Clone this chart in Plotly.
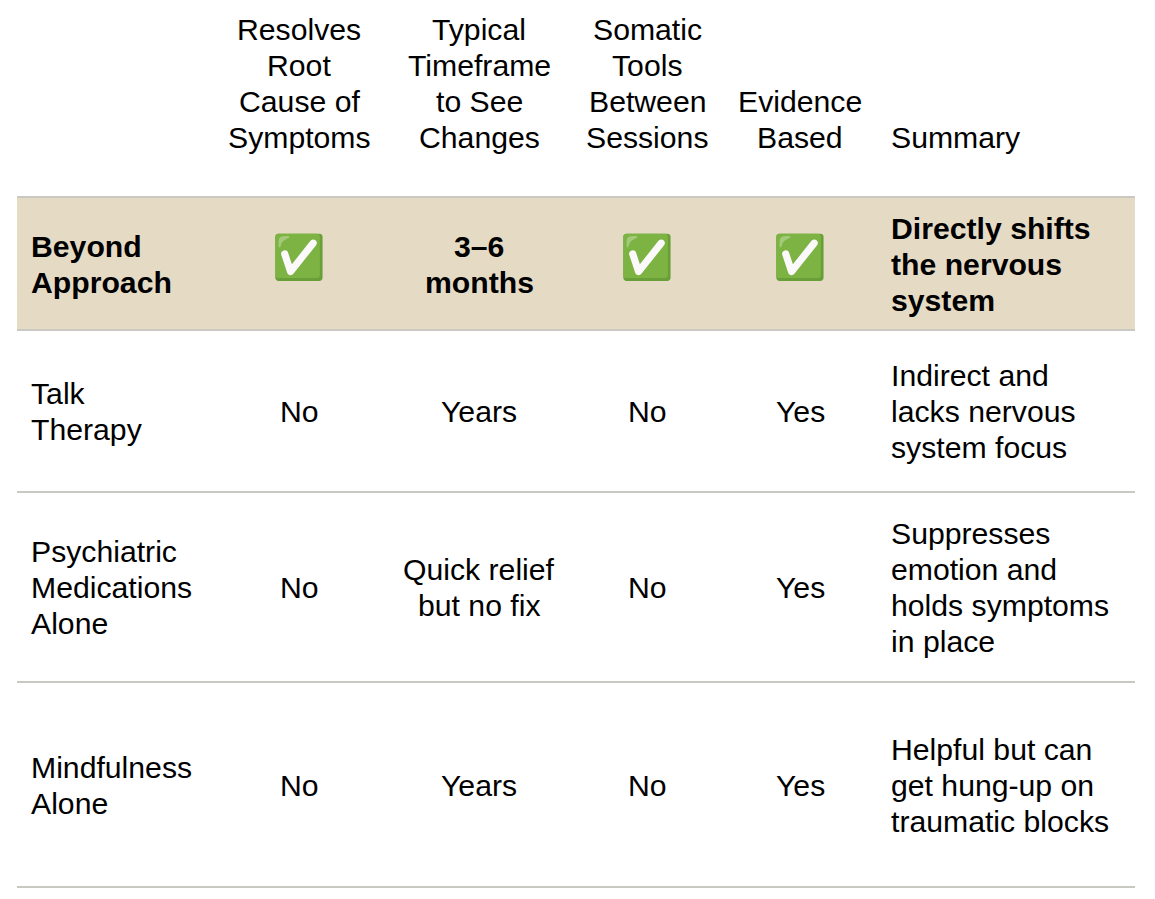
import plotly.graph_objects as go

# table content
headers = ["", "Resolves\nRoot\nCause of\nSymptoms", "Typical\nTimeframe\nto See\nChanges",
           "Somatic\nTools\nBetween\nSessions", "Evidence\nBased", "Summary"]
approaches = ["Beyond\nApproach", "Talk\nTherapy", "Psychiatric\nMedications\nAlone", "Mindfulness\nAlone"]
resolves_root = ["✅", "No", "No", "No"]
timeframe = ["3–6\nmonths", "Years", "Quick relief\nbut no fix", "Years"]
somatic_tools = ["✅", "No", "No", "No"]
evidence_based = ["✅", "Yes", "Yes", "Yes"]
summary = ["Directly shifts\nthe nervous\nsystem",
           "Indirect and\nlacks nervous\nsystem focus",
           "Suppresses\nemotion and\nholds symptoms\nin place",
           "Helpful but can\nget hung-up on\ntraumatic blocks"]

columns = [approaches, resolves_root, timeframe, somatic_tools, evidence_based, summary]

# layout (pixels of the window)
W, H = 1155, 899
PAGE_OFFSET = 8  # default body margin of the page
col_x = [29, 299, 479, 647, 800, 889]
col_align = ["left", "center", "center", "center", "center", "left"]
row_edges = [197, 330, 492, 682, 887]
row_mid = [264, 411, 587, 785]
header_bottom = 137
line_gap = 36
font_size = 30.2
FONT = "Liberation Sans, Arial, Helvetica, sans-serif"

fig = go.Figure()
shapes = []
annotations = []

# highlighted first row
shapes.append(dict(type="rect", xref="x", yref="y", x0=17, x1=1135,
                   y0=row_edges[0], y1=row_edges[1], fillcolor="#E5DBC5",
                   line=dict(width=0), layer="below"))
for y in row_edges:
    shapes.append(dict(type="line", xref="x", yref="y", x0=17, x1=1135, y0=y, y1=y,
                       line=dict(color="#C9C8C1", width=2)))


def add_text(x, y, txt, align, bold=False):
    annotations.append(dict(x=x, y=y, xref="x", yref="y", text=("<b>%s</b>" % txt) if bold else txt,
                            showarrow=False, xanchor=align, yanchor="middle",
                            font=dict(family=FONT, size=font_size, color="#000000")))


# header, bottom aligned
for c, head in enumerate(headers):
    if not head:
        continue
    lines = head.split("\n")
    for i, ln in enumerate(lines):
        y = header_bottom - (len(lines) - 1 - i) * line_gap
        add_text(col_x[c], y, ln, col_align[c])

# body rows, vertically centred
for r in range(len(approaches)):
    for c, col in enumerate(columns):
        val = col[r]
        if val == "✅":
            annotations.append(dict(x=col_x[c], y=row_mid[r] - 7, xref="x", yref="y", text=val,
                                    showarrow=False, xanchor="center", yanchor="middle",
                                    font=dict(family="Noto Color Emoji, DejaVu Sans", size=43)))
            continue
        lines = val.split("\n")
        n = len(lines)
        for i, ln in enumerate(lines):
            y = row_mid[r] + (i - (n - 1) / 2) * line_gap
            add_text(col_x[c], y, ln, col_align[c], bold=(r == 0))

fig.update_layout(
    width=W, height=H,
    margin=dict(l=0, r=0, t=0, b=0),
    paper_bgcolor="white", plot_bgcolor="white",
    xaxis=dict(range=[PAGE_OFFSET, W + PAGE_OFFSET], visible=False, fixedrange=True),
    yaxis=dict(range=[H + PAGE_OFFSET, PAGE_OFFSET], visible=False, fixedrange=True),
    shapes=shapes, annotations=annotations,
    showlegend=False,
)

fig.write_html("out.html")
